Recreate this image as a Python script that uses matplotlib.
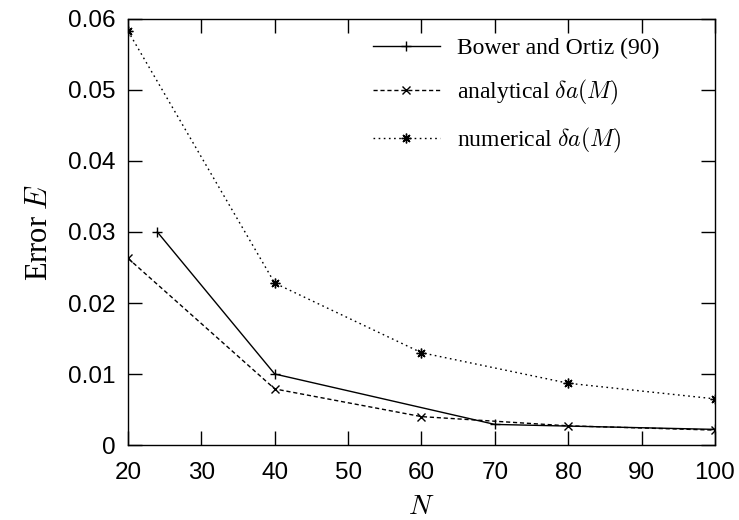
import matplotlib
matplotlib.use("Agg")
import matplotlib.pyplot as plt

plt.rcParams["mathtext.fontset"] = "cm"

bower_n = [24, 40, 70, 100]
bower_err = [0.0300, 0.0100, 0.0029, 0.0022]

analytical_n = [20, 40, 60, 80, 100]
analytical_err = [0.0263, 0.0079, 0.0040, 0.0027, 0.0021]

numerical_n = [20, 40, 60, 80, 100]
numerical_err = [0.0583, 0.0228, 0.0130, 0.0087, 0.0065]

x_ticks = [20, 30, 40, 50, 60, 70, 80, 90, 100]
y_ticks = [0, 0.01, 0.02, 0.03, 0.04, 0.05, 0.06]
y_labels = ["0", "0.01", "0.02", "0.03", "0.04", "0.05", "0.06"]

fig = plt.figure(figsize=(7.39, 5.2), dpi=100)
ax = fig.add_axes([0.1732, 0.1442, 0.7943, 0.8193])

ax.plot(bower_n, bower_err, color="black", linewidth=1.0, marker="+",
        markersize=7, markeredgewidth=1.0, label="Bower and Ortiz (90)")
ax.plot(analytical_n, analytical_err, color="black", linewidth=1.0,
        linestyle=(0, (3, 2)), marker="x", markersize=6, markeredgewidth=1.0,
        label=r"analytical $\delta a(M)$")
ax.plot(numerical_n, numerical_err, color="black", linewidth=1.0,
        linestyle=(0, (1.2, 2.5)), marker=(8, 2, 0), markersize=7,
        markeredgewidth=1.0, label=r"numerical $\delta a(M)$")

ax.set_xlim(20, 100)
ax.set_ylim(0, 0.06)
ax.set_xticks(x_ticks)
ax.set_yticks(y_ticks)
ax.set_yticklabels(y_labels)
ax.tick_params(direction="in", length=10, width=1.0, top=True, right=True,
               labelsize=17.5)
ax.tick_params(axis="x", pad=12)
ax.tick_params(axis="y", pad=9)
for lbl in ax.get_xticklabels() + ax.get_yticklabels():
    lbl.set_family("Liberation Sans")
for spine in ax.spines.values():
    spine.set_linewidth(1.0)

ax.set_xlabel(r"$N$", fontsize=20, labelpad=6)
ax.set_ylabel(r"Error $E$", fontsize=22, family="Liberation Serif", labelpad=10)

leg = ax.legend(loc="upper left", bbox_to_anchor=(0.401, 0.979),
                borderaxespad=0, frameon=False, handlelength=2.85,
                handletextpad=0.72, labelspacing=0.8,
                prop={"family": "Liberation Serif", "size": 17})

fig.savefig("out.png", dpi=100)
